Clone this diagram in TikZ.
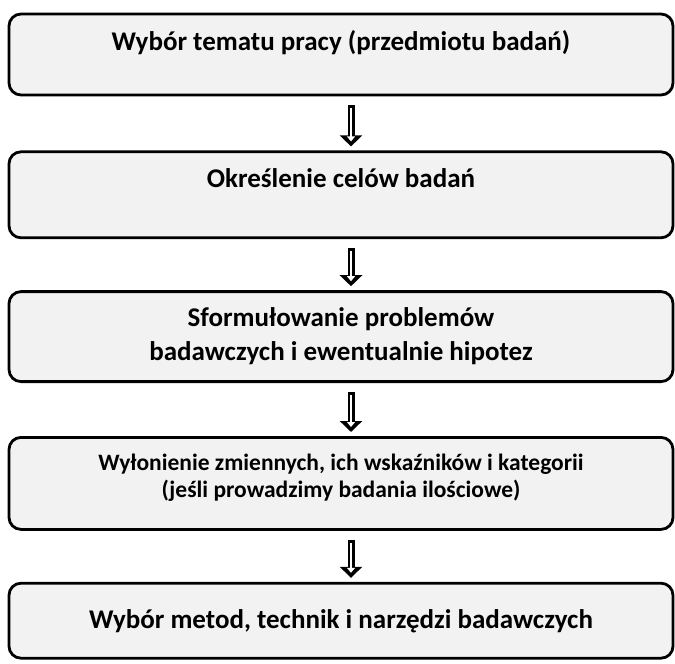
\documentclass[tikz,border=0pt]{standalone}
\usepackage{fontspec}
\setmainfont{Carlito}
\usetikzlibrary{positioning,arrows.meta}

\begin{document}
\begin{tikzpicture}[%
  x=1pt,
  y=-1pt,
  etap/.style={
    draw,
    line width=2.8pt,
    rounded corners=12pt,
    fill=black!5,
    minimum width=664pt,
    align=center,
    font=\fontsize{27}{34}\selectfont\bfseries},
  pil/.style={
    white,
    line width=2.4pt,
    shorten <=12pt,
    shorten >=9pt,
    -{Triangle[width=8pt,length=5pt]},
    preaction={draw=black, line width=7pt, shorten <=9pt, shorten >=4pt,
      -{Triangle[width=22pt,length=11pt]}}}
  ]
  \useasboundingbox (0,0) rectangle (675,664);
  %% Nodes
  \node[etap, minimum height=81pt, text height=20pt, text depth=29pt] (B1) at (341,54.5)
    {Wybór tematu pracy (przedmiotu badań)};
  \node[etap, minimum height=86pt, text height=20pt, text depth=34pt, below=54pt of B1] (B2)
    {Określenie celów badań};
  \node[etap, minimum height=90pt, below=51pt of B2] (B3)
    {Sformułowanie problemów\\badawczych i ewentualnie hipotez};
  \node[etap, minimum height=92pt, below=53pt of B3,
    font=\fontsize{23.5}{27}\selectfont\bfseries] (B4)
    {Wyłonienie zmiennych, ich wskaźników i kategorii\\(jeśli prowadzimy badania ilościowe)\rule[-15pt]{0pt}{15pt}};
  \node[etap, minimum height=75pt, text height=20pt, text depth=5pt, below=51pt of B4] (B5)
    {Wybór metod, technik i narzędzi badawczych};
  %% Edges
  \draw[pil] ([xshift=10pt]B1.south) -- ([xshift=10pt]B2.north);
  \draw[pil] ([xshift=10pt]B2.south) -- ([xshift=10pt]B3.north);
  \draw[pil] ([xshift=10pt]B3.south) -- ([xshift=10pt]B4.north);
  \draw[pil] ([xshift=10pt]B4.south) -- ([xshift=10pt]B5.north);
\end{tikzpicture}
\end{document}
